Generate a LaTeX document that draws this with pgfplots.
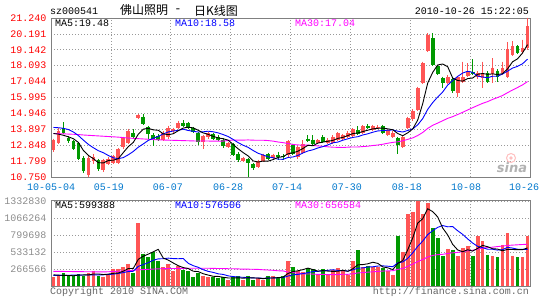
\documentclass[border=0pt]{standalone}
\usepackage{pgfplots}
\pgfplotsset{compat=1.18}
\usepackage{pgfplotstable}
\usepackage{fontspec}
\setmainfont{Liberation Mono}
\newfontfamily\cjk{Noto Sans CJK SC}
\newfontfamily\dvs{DejaVu Sans}
\definecolor{cup}{HTML}{FF5555}
\definecolor{cdn}{HTML}{009900}
\definecolor{mab}{HTML}{0000FF}
\definecolor{mam}{HTML}{FF00FF}
\definecolor{pricered}{HTML}{FF0000}
\definecolor{dateblue}{HTML}{0077CC}
\definecolor{volgray}{HTML}{8C8C8C}
\definecolor{foot}{HTML}{666666}
\newcommand\tf{\fontsize{10}{12}\selectfont}

\pgfplotstableread{
i O H L C V
0 12.561 13.290 12.406 13.179 140000
1 13.003 13.952 12.914 13.798 155000
7 10.861 12.119 10.760 12.031 208000
8 11.810 12.252 11.633 12.076 245000
10 11.192 11.943 11.103 11.854 150000
11 11.633 12.076 11.545 11.965 197000
12 11.699 12.208 11.589 12.119 271000
13 11.699 12.649 11.589 12.583 271000
14 12.738 13.400 12.627 13.312 297000
15 13.003 13.930 12.914 13.798 354000
17 14.615 14.902 14.549 14.836 981000
22 13.223 13.776 13.135 13.665 302000
23 13.400 14.129 13.290 13.952 354000
24 13.776 13.997 13.665 13.886 234000
25 13.952 14.461 13.886 14.284 323000
30 13.068 13.533 12.627 13.444 155000
31 13.356 13.709 13.268 13.621 145000
35 12.738 13.091 12.649 13.003 103000
38 11.810 12.076 11.721 11.987 103000
41 11.412 11.898 11.346 11.788 130000
42 11.810 12.296 11.743 12.185 103000
44 12.031 12.296 11.943 12.185 166000
47 12.185 13.179 12.076 13.113 391000
49 12.076 12.826 11.965 12.738 234000
50 12.340 13.179 12.252 12.958 218000
53 13.003 13.246 12.936 13.179 182000
55 13.003 13.312 12.936 13.223 182000
56 13.003 13.488 12.936 13.400 260000
57 13.179 13.709 13.113 13.621 286000
58 13.290 13.599 13.223 13.511 260000
59 13.400 13.754 13.334 13.665 182000
60 13.444 13.975 13.378 13.886 391000
62 13.621 14.173 13.555 14.107 302000
64 13.842 14.195 13.776 14.107 302000
65 13.952 14.151 13.886 14.063 302000
67 13.511 13.930 13.444 13.842 234000
68 13.400 13.754 13.334 13.665 182000
70 12.738 13.444 12.649 13.356 532000
71 13.952 14.725 13.886 14.615 1123000
72 14.549 15.211 14.461 15.123 1159000
73 15.167 16.713 15.101 16.602 1332830
74 16.934 18.369 16.868 18.259 1123000
75 19.031 20.245 18.965 20.135 1306000
79 16.978 17.464 16.890 17.376 584000
81 16.270 17.420 16.050 17.332 469000
82 17.045 18.369 16.978 17.332 600000
83 17.420 18.259 17.332 17.774 626000
85 17.332 17.729 17.244 17.641 783000
86 17.266 18.369 16.602 17.597 705000
88 17.552 18.590 16.934 17.928 469000
90 17.597 18.369 17.509 17.928 645000
91 17.376 19.628 17.310 19.186 825000
92 18.811 19.694 18.745 19.363 480000
94 18.965 19.805 18.877 19.253 454000
95 19.253 21.240 19.142 20.688 783000
}\up

\pgfplotstableread{
i O H L C V
2 13.952 14.372 13.577 13.665 208000
3 13.334 13.444 13.003 13.113 171000
4 13.135 13.223 12.517 12.605 155000
5 13.003 13.069 11.854 11.943 192000
6 12.031 12.119 11.015 11.147 166000
9 11.854 11.943 11.147 11.280 155000
16 13.621 13.886 13.268 13.356 208000
18 14.725 14.902 14.173 14.240 511000
19 14.063 14.129 13.290 13.577 459000
20 13.511 13.621 12.804 13.290 532000
21 13.444 13.555 13.135 13.223 401000
26 14.328 14.505 14.019 14.107 250000
27 14.328 14.394 13.886 13.952 234000
28 13.997 14.063 13.665 13.732 140000
29 13.665 13.732 12.848 13.068 208000
32 13.577 13.665 13.179 13.290 140000
33 13.400 13.488 13.135 13.223 130000
34 13.223 13.312 12.693 12.782 140000
36 12.914 13.003 12.119 12.185 140000
37 12.296 12.384 11.765 11.854 155000
39 11.965 12.031 10.760 11.677 160000
40 11.589 11.677 11.192 11.368 103000
43 12.252 12.340 11.898 11.965 155000
45 12.185 12.406 11.898 12.076 130000
46 12.119 12.252 11.854 12.053 166000
48 12.848 12.958 12.230 12.296 297000
51 13.290 13.511 13.046 13.113 286000
52 13.223 13.511 12.892 12.958 271000
54 13.400 13.488 13.003 13.068 271000
61 13.842 14.107 13.511 13.577 563000
63 14.107 14.240 13.886 13.952 323000
66 14.107 14.195 13.577 13.665 286000
69 13.334 13.400 12.252 12.848 783000
76 19.914 20.245 18.082 18.148 903000
77 18.082 18.171 17.464 17.552 746000
78 17.266 17.376 16.602 16.934 469000
80 17.222 17.332 16.315 16.403 574000
84 17.707 18.524 17.464 17.552 480000
87 17.641 17.729 16.978 17.045 496000
89 17.751 17.862 17.023 17.332 454000
93 19.363 19.451 18.833 18.921 454000
}\down

\pgfplotstableread{
i m5 m10 m30 v5 v10 v30
0 13.62 14.02 13.62 180000 172000 235000
1 13.58 14.00 13.61 175000 172000 234000
2 13.50 13.96 13.60 172000 173000 233000
3 13.40 13.88 13.58 170000 174000 232000
4 13.272 13.72 13.57 165800 175000 231000
5 13.025 13.48 13.55 176200 176000 230000
6 12.495 13.18 13.52 178400 177000 229000
7 12.168 12.90 13.50 178400 178000 228000
8 11.960 12.68 13.48 193200 179000 227000
9 11.695 12.484 13.46 193200 179500 226000
10 11.678 12.351 13.44 184800 180500 226000
11 11.841 12.168 13.42 191000 184700 228000
12 11.859 12.013 13.40 203600 191000 232000
13 11.960 11.960 13.38 208800 201000 236000
14 12.367 12.031 13.35 237200 215200 240000
15 12.755 12.217 13.32 278000 231400 245000
16 13.034 12.437 13.30 280200 235600 250000
17 13.577 12.718 13.28 422200 312900 258000
18 13.908 12.934 13.26 470200 339500 262000
19 13.961 13.164 13.24 502600 369900 266000
20 13.860 13.308 13.22 538200 408100 270000
21 13.833 13.433 13.20 576800 428500 273000
22 13.599 13.588 13.19 441000 431600 276000
23 13.541 13.725 13.18 409600 439900 278000
24 13.603 13.782 13.17 364600 433600 279000
25 13.802 13.831 13.16 322800 430500 280000
26 13.979 13.906 13.15 292600 434700 281000
27 14.036 13.818 13.14 279000 360000 282000
28 13.992 13.767 13.13 236200 322900 282000
29 13.829 13.716 13.121 231000 297800 282400
30 13.661 13.731 13.130 197400 260100 282900
31 13.563 13.771 13.124 176400 234500 282600
32 13.431 13.734 13.112 157600 218300 280300
33 13.329 13.661 13.115 155600 195900 278900
34 13.272 13.550 13.121 142000 186500 278400
35 13.184 13.422 13.157 131600 164500 275500
36 12.897 13.230 13.191 130600 153500 274600
37 12.609 13.020 13.185 133600 145600 272800
38 12.362 12.846 13.182 128200 141900 268100
39 12.141 12.707 13.196 132200 137100 268300
40 11.814 12.499 13.179 132200 131900 266700
41 11.735 12.316 13.173 130200 130400 264500
42 11.801 12.205 13.176 119800 126700 258900
43 11.797 12.079 13.155 130200 129200 255000
44 11.898 12.020 13.117 131400 131800 250600
45 12.040 11.927 13.060 136800 134500 243200
46 12.093 11.914 13.017 144000 137100 241800
47 12.278 12.040 12.959 201600 160700 222100
48 12.345 12.071 12.894 230000 180100 215000
49 12.455 12.177 12.866 243600 187500 207500
50 12.632 12.336 12.855 261200 199000 197000
51 12.844 12.468 12.852 285200 214600 193200
52 12.813 12.546 12.828 261200 231400 192100
53 12.989 12.667 12.802 238200 234100 186400
54 13.055 12.755 12.775 245600 244600 187600
55 13.108 12.870 12.740 238400 249800 182900
56 13.166 13.005 12.716 233200 259200 183300
57 13.298 13.055 12.705 236200 248700 185000
58 13.365 13.177 12.698 251800 245000 189000
59 13.484 13.270 12.718 234000 239800 188100
60 13.617 13.362 12.732 275800 257100 196000
61 13.652 13.409 12.731 336400 284800 209900
62 13.749 13.524 12.758 339600 287900 215300
63 13.837 13.601 12.782 352200 302000 221800
64 13.926 13.705 12.827 376200 305100 227200
65 13.961 13.789 12.862 358400 317100 233800
66 13.979 13.815 12.911 303000 319700 238700
67 13.926 13.838 12.978 289400 314500 241300
68 13.868 13.853 13.033 261200 306700 243900
69 13.617 13.771 13.073 357400 366800 264700
70 13.475 13.718 13.139 403400 380900 279000
71 13.665 13.822 13.233 570800 436900 312100
72 13.921 13.924 13.331 755800 522600 347300
73 14.509 14.189 13.486 986000 623600 386600
74 15.591 14.604 13.688 1054000 705700 418500
75 16.947 15.211 13.957 1208800 806100 457700
76 17.653 15.659 14.160 1164800 867800 482200
77 18.139 16.030 14.308 1082200 919000 494100
78 18.206 16.357 14.462 909400 947700 499800
79 18.029 16.810 14.617 801600 927800 511500
80 17.283 17.115 14.732 655200 932000 523300
81 17.119 17.386 14.872 568400 866600 529400
82 17.075 17.607 15.018 539200 810700 540400
83 17.243 17.725 15.171 570600 740000 555200
84 17.279 17.654 15.321 549800 675700 562200
85 17.526 17.404 15.468 591600 623400 582200
86 17.579 17.349 15.608 638800 603600 597000
87 17.522 17.299 15.722 618000 578600 604000
88 17.553 17.398 15.869 586600 578600 611000
89 17.509 17.394 15.992 581400 565600 620100
90 17.566 17.546 16.126 553800 572700 628500
91 17.884 17.732 16.313 577800 608300 637300
92 18.347 17.935 16.489 574600 596300 643200
93 18.546 18.049 16.654 571600 579100 647600
94 18.930 18.219 16.826 571600 576500 652600
95 19.482 18.524 17.047 599200 576500 656584
}\ma

\pgfplotsset{
  kpanel/.style={
    scale only axis, width=479pt,
    xmin=-0.5, xmax=95.5,
    xtick={11.5,23.5,35.5,47.5,59.5,71.5,83.5},
    xticklabels={},
    xmajorgrids, ymajorgrids,
    grid style={black!40, dash pattern=on 1pt off 2pt, line width=0.6pt},
    axis line style={black!50, line width=0.8pt},
    major tick length=0pt,
    tick style={draw=none},
    clip=true,
  },
  wick/.style={only marks, mark=none, mark size=0pt,
    mark options={draw=none, fill=none}, forget plot,
    error bars/.cd, y dir=minus, y explicit, error mark=none,
    error bar style={line width=1pt, draw=#1}},
  body/.style={only marks, mark=none, mark size=0pt,
    mark options={draw=none, fill=none}, forget plot,
    error bars/.cd, y dir=minus, y explicit, error mark=none,
    error bar style={line width=3.8pt, draw=#1}},
}

\begin{document}
\begin{tikzpicture}
\useasboundingbox (0pt,0pt) rectangle (545pt,300pt);

% ---------------- price panel ----------------
\begin{axis}[kpanel,
  at={(51pt,123pt)}, anchor=south west, height=159pt,
  ymin=10.75, ymax=21.24,
  ytick={10.750,11.799,12.848,13.897,14.946,15.995,17.044,18.093,19.142,20.191,21.240},
  yticklabels={10.750,11.799,12.848,13.897,14.946,15.995,17.044,18.093,19.142,20.191,21.240},
  yticklabel style={font=\tf, text=pricered, anchor=east, inner sep=0pt, xshift=-4.5pt},
  extra x ticks={-0.45,11.1,22.9,35.0,46.8,58.8,70.8,82.7,94.3},
  extra x tick labels={10-05-04,05-19,06-07,06-28,07-14,07-30,08-18,10-08,10-26},
  extra x tick style={grid=none},
  xticklabel style={font=\tf, text=dateblue, anchor=north, inner sep=0pt, yshift=-7pt},
]
\addplot[wick=cup] table[x=i, y=H, y error minus expr=\thisrow{H}-\thisrow{L}] {\up};
\addplot[wick=cdn] table[x=i, y=H, y error minus expr=\thisrow{H}-\thisrow{L}] {\down};
\addplot[body=cup] table[x=i, y=C, y error minus expr=\thisrow{C}-\thisrow{O}] {\up};
\addplot[body=cdn] table[x=i, y=O, y error minus expr=\thisrow{O}-\thisrow{C}] {\down};
\addplot[mam, line width=0.9pt, mark=none] table[x=i, y=m30] {\ma};
\addplot[mab, line width=0.9pt, mark=none] table[x=i, y=m10] {\ma};
\addplot[black, line width=0.9pt, mark=none] table[x=i, y=m5] {\ma};
\end{axis}

% ---------------- volume panel ----------------
\begin{axis}[kpanel,
  at={(51pt,13.6pt)}, anchor=south west, height=85.6pt,
  ymin=0, ymax=1332830,
  ytick={266566,533132,799698,1066264,1332830},
  yticklabels={266566,533132,799698,1066264,1332830},
  yticklabel style={font=\tf, text=volgray, anchor=east, inner sep=0pt, xshift=-4.5pt},
  scaled y ticks=false,
]
\addplot[body=cup] table[x=i, y=V, y error minus expr=\thisrow{V}] {\up};
\addplot[body=cdn] table[x=i, y=V, y error minus expr=\thisrow{V}] {\down};
\addplot[mam, line width=0.9pt, mark=none] table[x=i, y=v30] {\ma};
\addplot[mab, line width=0.9pt, mark=none] table[x=i, y=v10] {\ma};
\addplot[black, line width=0.9pt, mark=none] table[x=i, y=v5] {\ma};
\end{axis}

% ---------------- texts ----------------
\node[anchor=west, inner sep=0pt, font=\tf] at (50pt,289pt) {sz000541};
\node[anchor=west, inner sep=0pt, font=\cjk\fontsize{12}{12}\selectfont] at (120pt,289.5pt) {佛山照明};
\node[anchor=center, inner sep=0pt, font=\fontsize{12}{12}\selectfont] at (178pt,289.5pt) {-};
\node[anchor=west, inner sep=0pt, font=\cjk\fontsize{12}{12}\selectfont] at (194pt,289.5pt) {日K线图};
\node[anchor=east, inner sep=0pt, font=\tf] at (529pt,289pt) {2010-10-26 15:22:05};

\node[anchor=west, inner sep=0pt, font=\tf] at (55pt,276.5pt) {MA5:19.48};
\node[anchor=west, inner sep=0pt, font=\tf, text=mab] at (175pt,276.5pt) {MA10:18.58};
\node[anchor=west, inner sep=0pt, font=\tf, text=mam] at (295pt,276.5pt) {MA30:17.04};

\node[anchor=west, inner sep=0pt, font=\tf] at (55pt,94.5pt) {MA5:599388};
\node[anchor=west, inner sep=0pt, font=\tf, text=mab] at (175pt,94.5pt) {MA10:576506};
\node[anchor=west, inner sep=0pt, font=\tf, text=mam] at (295pt,94.5pt) {MA30:656584};

\node[anchor=west, inner sep=0pt, font=\tf, text=foot] at (50pt,8pt) {Copyright 2010 SINA.COM};
\node[anchor=east, inner sep=0pt, font=\tf, text=foot] at (529pt,8pt) {http://finance.sina.com.cn};

% sina watermark
\draw[red!25, line width=1pt] (511pt,142pt) circle (4.5pt);
\fill[red!25] (511pt,142pt) circle (1.8pt);
\node[anchor=center, inner sep=0pt, text=black!30, font=\dvs\bfseries\itshape\fontsize{13}{13}\selectfont] at (512pt,132pt) {sina};
\end{tikzpicture}
\end{document}
